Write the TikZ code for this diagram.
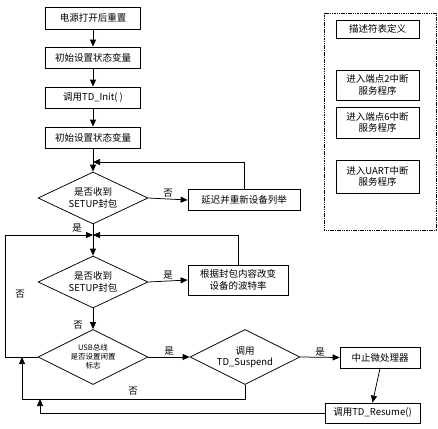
\documentclass[tikz,border=0pt]{standalone}
\usepackage{fontspec}
\newfontfamily\cjk{Noto Sans CJK SC}
\usetikzlibrary{shapes.geometric,arrows.meta}
\begin{document}
\begin{tikzpicture}[x=1pt,y=-1pt,
  line width=0.75pt,
  every node/.style={font=\cjk\fontsize{9.5}{11.5}\selectfont},
  box/.style={draw,rectangle,inner sep=1pt,align=center},
  dia/.style={draw,diamond,inner sep=0pt,aspect=2.1,align=center},
  arr/.style={-{Triangle[length=7pt,width=6pt]}},
  lbl/.style={inner sep=1pt}]
\useasboundingbox (0,0) rectangle (438,428);
% main column
\node[box,minimum width=95pt,minimum height=22pt] (b1) at (93,18) {电源打开后重置};
\node[box,minimum width=95pt,minimum height=21pt] (b2) at (93,57.5) {初始设置状态变量};
\node[box,minimum width=95pt,minimum height=21pt] (b3) at (93,97.5) {调用TD\_Init( )};
\node[box,minimum width=95pt,minimum height=21pt] (b4) at (93,137.5) {初始设置状态变量};
\node[dia,minimum width=110pt,minimum height=52pt] (d1) at (93,198) {是否收到\\SETUP封包};
\node[box,minimum width=112pt,minimum height=21pt] (delay) at (244,200) {延迟并重新设备列举};
\node[dia,minimum width=110pt,minimum height=52pt] (d2) at (93,282) {是否收到\\SETUP封包};
\node[box,minimum width=100pt,minimum height=30pt] (baud) at (238,280) {根据封包内容改变\\设备的波特率};
\node[dia,minimum width=110pt,minimum height=55pt,font=\cjk\fontsize{7.5}{9}\selectfont] (d3) at (93,357) {USB总线\\是否设置闲置\\标志};
\node[dia,minimum width=110pt,minimum height=55pt] (d4) at (245,357) {调用\\TD\_Suspend};
\node[box,minimum width=80pt,minimum height=21pt] (halt) at (380,357.5) {中止微处理器};
\node[box,minimum width=95pt,minimum height=20pt] (resume) at (372.5,413) {调用TD\_Resume()};
% merge points
\coordinate (m1) at (93,162);
\coordinate (m2) at (93,235);
\coordinate (lb) at (5,357);
\coordinate (bk1) at (22,399);
\coordinate (bk2) at (40,413);
% connectors
\draw[arr] (b1) -- (b2);
\draw[arr] (b2) -- (b3);
\draw[arr] (b3) -- (b4);
\draw (b4) -- (m1);
\draw[arr] (m1) -- (d1.north);
\draw[arr] (d1.east) -- node[lbl,above,pos=0.5] {否} (delay.west);
\draw[arr] (delay.north) |- (m1);
\draw (d1.south) -- (m2);
\draw[arr] (m2) -- (d2.north);
\draw[arr] (baud.north) |- (m2);
\draw[arr] (d3.west) -- (lb) |- (m2);
\draw[arr] (d2.east) -- node[lbl,above] {是} (baud.west);
\draw[arr] (d2.south) -- (d3.north);
\draw[arr] (d3.east) -- node[lbl,above] {是} (d4.west);
\draw[arr] (d4.east) -- node[lbl,above] {是} (halt.west);
\draw[arr] (halt.south) -- (resume.north);
\draw[arr] (d4.south) |- (bk1) -- (bk1 |- d3.west);
\draw[arr] (resume.west) -- (bk2) -- (bk2 |- bk1);
% labels
\node[lbl] (l1) at (77,228) {是};
\node[lbl] (l2) at (78,325) {否};
\node[lbl] (l3) at (20,294) {否};
\node[lbl] (l4) at (133,391) {否};
% right panel
\draw[dash pattern=on 1.5pt off 0.8pt,line width=0.8pt] (324,13) rectangle (436,230);
\node[box,minimum width=83pt,minimum height=18pt] (desc) at (377.5,29) {描述符表定义};
\node[box,minimum width=83pt,minimum height=30pt] (ep2) at (377.5,85) {进入端点2中断\\服务程序};
\node[box,minimum width=83pt,minimum height=31pt] (ep6) at (377.5,122.5) {进入端点6中断\\服务程序};
\node[box,minimum width=83pt,minimum height=33pt] (uart) at (377.5,176.5) {进入UART中断\\服务程序};
\end{tikzpicture}
\end{document}
